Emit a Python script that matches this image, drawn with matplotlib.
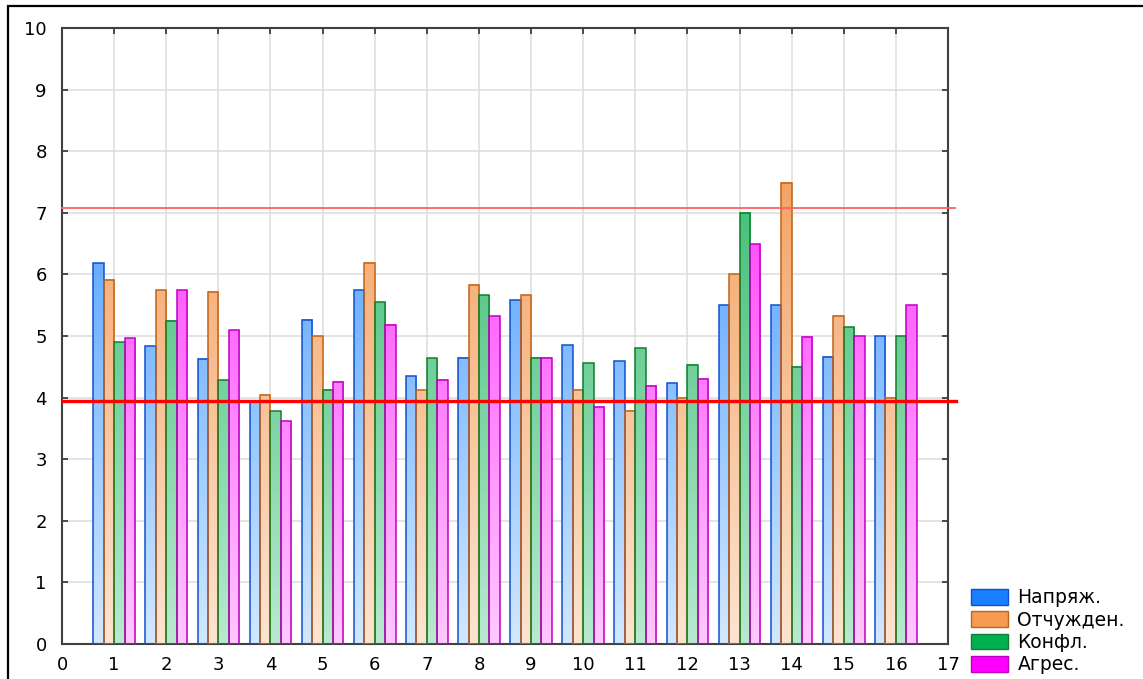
import numpy as np
import matplotlib
matplotlib.use("Agg")
import matplotlib.pyplot as plt
from matplotlib.colors import to_rgb
from matplotlib.patches import Rectangle, Patch

plt.rcParams['font.family'] = ['DejaVu Sans']

# data
groups = np.arange(1, 17)
series_names = ['Напряж.', 'Отчужден.', 'Конфл.', 'Агрес.']
napr = [6.18, 4.83, 4.63, 3.95, 5.26, 5.74, 4.35, 4.65, 5.58, 4.85, 4.59, 4.23, 5.50, 5.50, 4.66, 5.00]
otch = [5.91, 5.74, 5.72, 4.05, 5.00, 6.19, 4.12, 5.83, 5.66, 4.13, 3.79, 4.00, 6.00, 7.49, 5.33, 4.00]
konf = [4.90, 5.25, 4.28, 3.78, 4.13, 5.55, 4.64, 5.66, 4.65, 4.56, 4.80, 4.53, 7.00, 4.50, 5.14, 5.00]
agr = [4.96, 5.74, 5.09, 3.62, 4.26, 5.18, 4.29, 5.32, 4.65, 3.85, 4.19, 4.31, 6.49, 4.99, 5.00, 5.50]
upper_level = 7.07
lower_level = 3.95

series = [napr, otch, konf, agr]
# (light at 0, saturated at top, edge, legend colour)
styles = [
    ('#d2e8ff', '#4a9cff', '#1050d0', '#1a7fff'),
    ('#fde4d0', '#f4a060', '#c06418', '#f59a50'),
    ('#b8eacf', '#38bc70', '#10802c', '#00b050'),
    ('#ffc8ff', '#ff38ff', '#c000c0', '#ff00ff'),
]
offsets = [-0.3, -0.1, 0.1, 0.3]
bw = 0.2
ytop_grad = 8.0

fig = plt.figure(figsize=(11.43, 6.79), dpi=100)
ax = fig.add_axes([62 / 1143, 1 - 644 / 679, (948 - 62) / 1143, (644 - 28) / 679])

for vals, (light, dark, edge, _), off in zip(series, styles, offsets):
    c0 = np.array(to_rgb(light))
    c1 = np.array(to_rgb(dark))
    for g, v in zip(groups, vals):
        ys = np.linspace(0, v, 200)
        t = np.clip(ys / ytop_grad, 0, 1)[:, None]
        img = (c0 * (1 - t) + c1 * t)[:, None, :]
        x0 = g + off - bw / 2
        ax.imshow(img, origin='lower', extent=(x0, x0 + bw, 0, v),
                  aspect='auto', interpolation='bilinear', zorder=2)
    ax.bar(groups + off, vals, width=bw, fill=False, edgecolor=edge,
           linewidth=1.1, zorder=3)

ax.plot([0, 17.13], [upper_level] * 2, color='#ff6060', lw=1.3, zorder=4, clip_on=False)
ax.plot([0.02, 17.15], [lower_level] * 2, color='#ff0000', lw=2.4, zorder=4, clip_on=False)

ax.set_xlim(0, 17)
ax.set_ylim(0, 10)
ax.set_xticks(range(0, 18))
ax.set_yticks(range(0, 11))
ax.grid(True, color='#dcdcdc', lw=1.1, zorder=0)
ax.set_axisbelow(True)
ax.tick_params(direction='in', length=4, width=1.2, color='#303030',
               top=True, right=True, labelsize=13)
ax.tick_params(axis='y', pad=11)
ax.tick_params(axis='x', pad=8.5)
for sp in ax.spines.values():
    sp.set_color('#404040')
    sp.set_linewidth(1.5)

handles = [Patch(facecolor=s[3], edgecolor=s[2], lw=1.0) for s in styles]
fig.legend(handles, series_names, loc='lower left',
           bbox_to_anchor=(965 / 1143, -1 / 679), frameon=False, fontsize=13.5,
           handlelength=2.0, handleheight=0.9, handletextpad=0.5,
           labelspacing=0.18, borderaxespad=0, borderpad=0.3)

fig.patches.append(Rectangle((8 / 1143, -0.1), 1.2, 1 - 6 / 679 + 0.1,
                             transform=fig.transFigure, fill=False,
                             edgecolor='black', lw=1.6))

fig.savefig('out.png', dpi=100)
